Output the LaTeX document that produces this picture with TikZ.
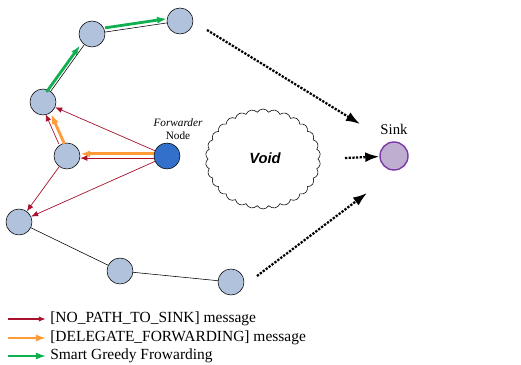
\documentclass[tikz,border=0pt]{standalone}
\usepackage{fontspec}
\setmainfont{Liberation Serif}
\newfontfamily\voidfont{Liberation Sans}
\usepackage{tikz}
\usetikzlibrary{arrows.meta,shapes.symbols}

\definecolor{nodeblue}{HTML}{B0C2DC}
\definecolor{fwdblue}{HTML}{3370CC}
\definecolor{sinkfill}{HTML}{C0AED0}
\definecolor{sinkline}{HTML}{7A3AA8}
\definecolor{nopath}{HTML}{A8102C}
\definecolor{delegate}{HTML}{FF9C38}
\definecolor{greedy}{HTML}{10B050}

\tikzset{
  sensor/.style={circle,draw,fill=nodeblue,minimum size=26*0.025cm,inner sep=0pt},
  nopathmsg/.style={-{Latex[length=5pt,width=4pt]},nopath,line width=0.5pt},
  delegatemsg/.style={-{Latex[length=7pt,width=5pt]},delegate,line width=2pt},
  greedymsg/.style={-{Latex[length=7pt,width=5pt]},greedy,line width=2pt},
  tosink/.style={-{Latex[length=10pt,width=7pt]},densely dotted,line width=1.6pt},
}

\begin{document}
\begin{tikzpicture}[x=0.025cm,y=-0.025cm]
  \useasboundingbox (0,0) rectangle (521,365);

  % sensors
  \node[sensor] (n1) at (180,21) {};
  \node[sensor] (n2) at (92,34) {};
  \node[sensor] (n3) at (43,102) {};
  \node[sensor] (n4) at (67,156) {};
  \node[sensor] (n5) at (19,222) {};
  \node[sensor] (n6) at (120,271) {};
  \node[sensor] (n7) at (231,282) {};
  \node[sensor,fill=fwdblue] (fwd) at (167,156) {};
  \node[font=\fontsize{8}{9}\selectfont,align=center] (fwdlabel) at (178,129)
    {\textit{Forwarder}\\Node};

  \node[circle,draw=sinkline,line width=1pt,fill=sinkfill,minimum size=28*0.025cm,inner sep=0pt] (sink) at (394,156) {};
  \node[font=\fontsize{10.5}{12}\selectfont] (sinklabel) at (394,129) {Sink};

  \node[cloud,draw,cloud puffs=30,cloud puff arc=120,aspect=1.15,
        minimum width=115*0.025cm,minimum height=100*0.025cm] (void) at (263,159) {};
  \node[font=\voidfont\bfseries\itshape\fontsize{10.5}{12}\selectfont] (voidlabel) at (265,158) {Void};

  % links
  \draw (n1) -- (n2) -- (n3);
  \draw (n5) -- (n6) -- (n7);

  % smart greedy
  \draw[greedymsg,transform canvas={xshift=-3pt,yshift=-0.5pt}] (n3) -- (n2);
  \draw[greedymsg,transform canvas={yshift=3pt}] (n2) -- (n1);

  % messages
  \draw[delegatemsg,transform canvas={yshift=1.5pt}] (fwd) -- (n4);
  \draw[nopathmsg,transform canvas={yshift=-1.5pt}] (fwd) -- (n4);
  \draw[delegatemsg,transform canvas={xshift=2pt}] (n4) -- (n3);
  \draw[nopathmsg,transform canvas={xshift=-2pt}] (n4) -- (n3);
  \draw[nopathmsg] (fwd) -- (n3);
  \draw[nopathmsg] (fwd) -- (n5);
  \draw[nopathmsg] (n4) -- (n5);

  % towards the sink
  \coordinate (a1) at (207,30);
  \coordinate (b1) at (360,124);
  \coordinate (a2) at (345,158);
  \coordinate (a3) at (257,276);
  \coordinate (b3) at (367,193);
  \draw[tosink] (a1) -- (b1);
  \draw[tosink] (a2) -- (sink);
  \draw[tosink] (a3) -- (b3);

  % legend
  \foreach \y/\name/\sty/\txt in {319/leg1/nopathmsg/{[NO\_PATH\_TO\_SINK] message},
                                  338/leg2/delegatemsg/{[DELEGATE\_FORWARDING] message},
                                  356/leg3/greedymsg/{Smart Greedy Frowarding}} {
    \coordinate (\name a) at (8,\y);
    \node[anchor=west,inner sep=0pt,font=\fontsize{11}{12}\selectfont] (\name) at (50,\y) {\txt};
    \draw[\sty,line width=1pt] (\name a) -- ([xshift=-3pt]\name.west);
  }
\end{tikzpicture}
\end{document}
